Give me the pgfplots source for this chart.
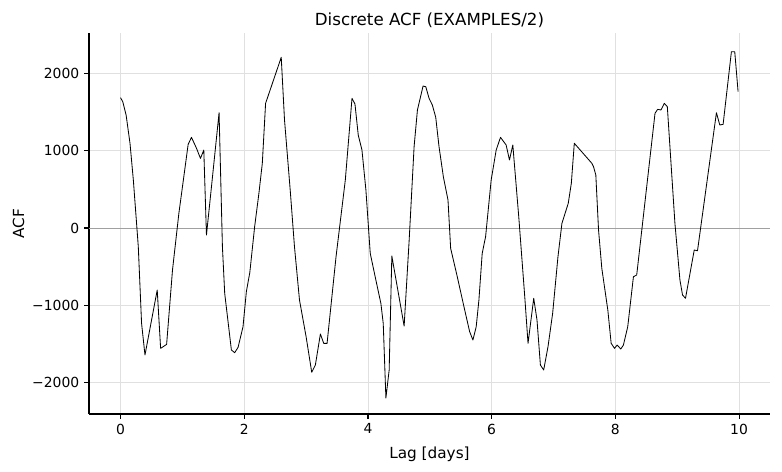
\documentclass[border=0pt]{standalone}
\usepackage{pgfplots}
\pgfplotsset{compat=1.18}
\usepackage{fontspec}
\setmainfont{DejaVu Sans}
\definecolor{gridc}{HTML}{E0E0E0}
\definecolor{zeroc}{HTML}{A0A0A0}
\pgfplotstableread{
x y
0.000 1686
0.036 1634
0.090 1462
0.153 1095
0.207 621
0.287 -241
0.340 -1233
0.395 -1643
0.593 -802
0.648 -1557
0.745 -1505
0.840 -543
0.943 190
1.023 664
1.093 1082
1.147 1173
1.228 1031
1.292 901
1.346 1009
1.389 -91
1.470 534
1.593 1492
1.647 -241
1.684 -845
1.792 -1578
1.845 -1613
1.900 -1544
1.980 -1277
2.034 -824
2.090 -575
2.168 17
2.237 449
2.292 837
2.345 1613
2.598 2208
2.651 1397
2.743 491
2.812 -241
2.893 -931
3.000 -1406
3.091 -1867
3.150 -1772
3.231 -1371
3.285 -1492
3.339 -1492
3.484 -371
3.634 621
3.742 1678
3.790 1604
3.843 1203
3.903 1009
3.967 491
4.037 -328
4.128 -673
4.209 -975
4.247 -1233
4.290 -2200
4.343 -1837
4.386 -362
4.585 -1268
4.666 -160
4.746 1052
4.800 1527
4.891 1837
4.935 1828
4.988 1678
5.041 1591
5.096 1432
5.149 1052
5.219 664
5.294 362
5.337 -263
5.444 -630
5.552 -1018
5.644 -1341
5.697 -1449
5.750 -1277
5.794 -931
5.847 -328
5.902 -112
5.992 621
6.073 1009
6.143 1173
6.234 1074
6.288 880
6.342 1074
6.438 146
6.535 -888
6.588 -1492
6.680 -909
6.733 -1190
6.788 -1772
6.841 -1837
6.911 -1535
6.986 -1104
7.072 -371
7.136 60
7.238 319
7.288 578
7.336 1096
7.620 837
7.647 793
7.684 686
7.728 -26
7.781 -522
7.878 -1061
7.932 -1492
7.986 -1557
8.029 -1514
8.087 -1565
8.130 -1514
8.200 -1277
8.292 -630
8.345 -608
8.641 1484
8.684 1535
8.738 1527
8.791 1613
8.840 1570
8.963 60
9.044 -673
9.086 -867
9.134 -909
9.275 -285
9.328 -294
9.634 1492
9.688 1333
9.742 1341
9.876 2281
9.930 2281
9.984 1764
}\acf
\begin{document}
\begin{tikzpicture}
\useasboundingbox (-64.08pt,-41.76pt) rectangle (498.96pt,298.08pt);
\begin{axis}[
  at={(0,0)}, anchor=south west,
  scale only axis, width=490.32pt, height=274.32pt,
  xmin=-0.51, xmax=10.5, ymin=-2406, ymax=2523,
  axis x line*=bottom, axis y line*=left,
  axis line style={-, line width=0.8pt, black},
  tick align=outside, major tick length=3.5pt,
  tick style={line width=0.8pt, black},
  xtick={0,2,4,6,8,10}, xticklabels={0,2,4,6,8,10},
  ytick={-2000,-1000,0,1000,2000},
  yticklabels={−2000,−1000,0,1000,2000},
  ticklabel style={font=\fontsize{10}{12}\selectfont},
  grid=major, major grid style={gridc, line width=0.6pt},
  title={Discrete ACF (EXAMPLES/2)},
  title style={font=\fontsize{12}{14}\selectfont, at={(axis description cs:0.5,1)}, anchor=south, yshift=-5.5pt},
  xlabel={Lag [days]}, ylabel={ACF},
  label style={font=\fontsize{11}{13}\selectfont},
  xlabel style={at={(axis description cs:0.5,0)}, anchor=north, yshift=-20pt},
  ylabel style={at={(axis description cs:0,0.5)}, anchor=south, yshift=43pt},
]
\addplot[zeroc, line width=0.5pt, forget plot] coordinates {(-0.51,0) (10.5,0)};
\addplot[black, line width=0.6pt, line join=round] table {\acf};
\end{axis}
\end{tikzpicture}
\end{document}
